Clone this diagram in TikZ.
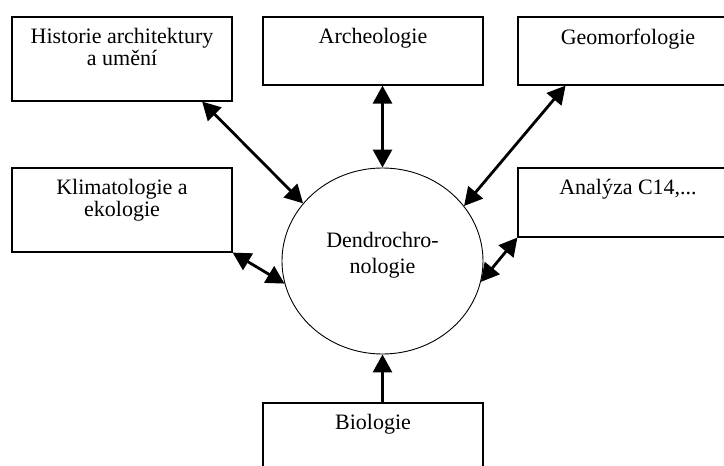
\documentclass[tikz,border=0pt]{standalone}
\usepackage{fontspec}
\setmainfont{Liberation Serif}
\usetikzlibrary{arrows.meta, shapes.geometric}

\begin{document}
\begin{tikzpicture}[x=1pt, y=-1pt,
        >={Triangle[length=18pt,width=19pt]},
        box node/.style={rectangle, draw, line width=1.2pt, minimum width=220pt, inner sep=0pt},
        box text/.style={font=\fontsize{22}{22}\selectfont, align=center, inner sep=12pt},
        circ node/.style={ellipse, draw, line width=0.9pt, minimum width=201pt, minimum height=186pt, inner sep=0pt},
        link/.style={line width=2.8pt}]

    \useasboundingbox (0,0) rectangle (724,466);
    \clip (0,0) rectangle (724,466);

    % Nodes
    \node[box node, minimum height=84pt] (hist) at (122,59)
        [label={[box text, anchor=north]north:Historie architektury\\a umění}] {};
    \node[box node, minimum height=68pt] (arch) at (373,51)
        [label={[box text, anchor=north]north:Archeologie}] {};
    \node[box node, minimum height=68pt] (geo) at (628,51)
        [label={[box text, anchor=north]north:Geomorfologie}] {};
    \node[box node, minimum height=84pt] (klima) at (122,210)
        [label={[box text, anchor=north]north:Klimatologie a\\ekologie}] {};
    \node[box node, minimum height=69pt] (ana) at (628,202.5)
        [label={[box text, anchor=north]north:Analýza C14,...}] {};
    \node[box node, minimum height=76pt] (bio) at (373,441)
        [label={[box text, anchor=north]north:Biologie}] {};
    \node[circ node] (dendro) at (382.5,261)
        [label={[box text, font=\fontsize{22}{26}\selectfont, inner sep=0pt, yshift=6pt]center:Dendrochro-\\nologie}] {};

    % Edges
    \path[link, <->]
    (hist.-28.3) edge (dendro.144.5)
    (arch.south -| dendro.north) edge (dendro.north)
    (geo.209) edge (dendro.34.9)
    (ana.south west) edge (dendro.-12.3)
    (klima.south east) edge (dendro.193.4);
    \draw[link, ->] (bio.north -| dendro.south) -- (dendro.south);

\end{tikzpicture}
\end{document}
